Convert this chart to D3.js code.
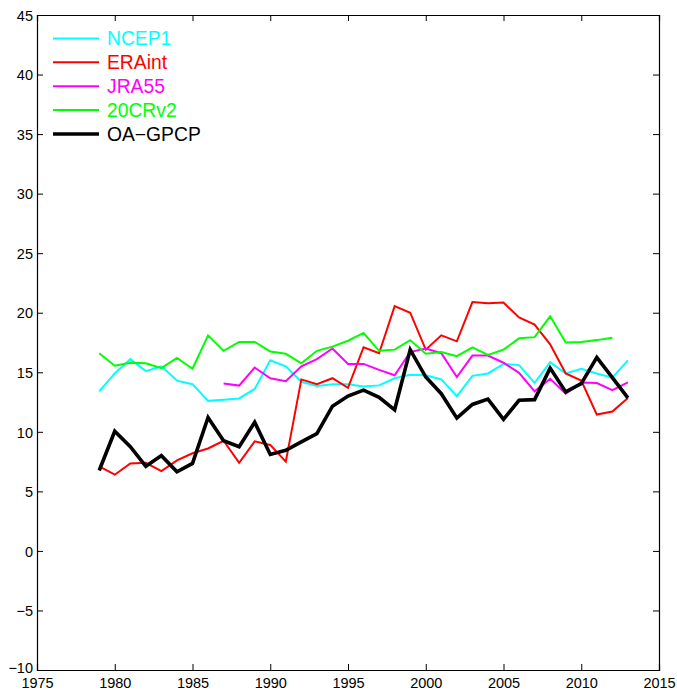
<!DOCTYPE html>
<html>
<head>
<meta charset="utf-8">
<script src="https://cdn.jsdelivr.net/npm/d3@7"></script>
<style>
  html, body { margin: 0; padding: 0; background: #fff; }
  svg text { font-family: "Liberation Sans", Arial, Helvetica, sans-serif; }
</style>
</head>
<body>
<div id="chart"></div>
<script>
const years = d3.range(1979, 2014);

const ncep1 = [13.4, 14.9, 16.1, 15.1, 15.5, 14.3, 14.0, 12.6, 12.7, 12.8,
  13.6, 16.0, 15.5, 14.2, 13.85, 14.0, 14.0, 13.8, 13.9, 14.5,
  14.8, 14.75, 14.4, 13.0, 14.7, 14.9, 15.7, 15.6, 14.1, 15.85,
  14.9, 15.3, 14.9, 14.55, 16.0];

const eraint = [7.1, 6.4, 7.35, 7.4, 6.7, 7.6, 8.2, 8.6, 9.25, 7.4,
  9.2, 8.9, 7.5, 14.4, 14.0, 14.5, 13.7, 17.1, 16.6, 20.55,
  20.0, 16.9, 18.1, 17.6, 20.9, 20.8, 20.85, 19.6, 19.0, 17.35,
  14.9, 14.3, 11.45, 11.7, 12.85];

const jra55 = [null, null, null, null, null, null, null, null, 14.05, 13.88,
  15.4, 14.5, 14.25, 15.5, 16.1, 17.0, 15.7, 15.7, 15.2, 14.75,
  16.7, 17.0, 16.6, 14.6, 16.4, 16.4, 15.8, 14.95, 13.4, 14.45,
  13.2, 14.15, 14.1, 13.5, 14.15];

const c20rv2 = [16.6, 15.55, 15.8, 15.75, 15.35, 16.2, 15.3, 18.1, 16.8, 17.55,
  17.55, 16.75, 16.55, 15.75, 16.8, 17.15, 17.65, 18.3, 16.8, 16.9,
  17.7, 16.55, 16.7, 16.35, 17.1, 16.45, 16.9, 17.85, 17.95, 19.7,
  17.5, 17.55, 17.7, 17.9, null];

const oagpcp = [6.75, 10.05, 8.75, 7.1, 8.0, 6.65, 7.35, 11.2, 9.25, 8.75,
  10.8, 8.1, 8.45, 9.15, 9.85, 12.15, 13.0, 13.5, 12.9, 11.85,
  16.9, 14.6, 13.2, 11.15, 12.3, 12.75, 11.05, 12.65, 12.7, 15.35,
  13.35, 14.05, 16.25, 14.55, 12.85];

const seriesNames = ["NCEP1", "ERAint", "JRA55", "20CRv2", "OA\u2212GPCP"];
const seriesValues = [ncep1, eraint, jra55, c20rv2, oagpcp];
const seriesColors = ["#00FFFF", "#FF0000", "#FF00FF", "#00FF00", "#000000"];
const seriesWidths = [2, 2, 2, 2, 3.6];

const xTicks = d3.range(1975, 2016, 5);
const yTicks = d3.range(-10, 46, 5);

const W = 677, H = 690;
const mLeft = 37, mRight = 659, mTop = 15, mBottom = 670;

const svg = d3.select("#chart").append("svg")
  .attr("width", W).attr("height", H);

const x = d3.scaleLinear().domain([1975, 2015]).range([mLeft, mRight]);
const y = d3.scaleLinear().domain([-10, 45]).range([mBottom, mTop]);

const tickLen = 6;
const fmt = d => d < 0 ? "\u2212" + Math.abs(d) : String(d);

const gBottom = svg.append("g").attr("transform", `translate(0,${mBottom})`)
  .call(d3.axisBottom(x).tickValues(xTicks).tickSize(-tickLen).tickPadding(8).tickFormat(d3.format("d")));
const gTop = svg.append("g").attr("transform", `translate(0,${mTop})`)
  .call(d3.axisTop(x).tickValues(xTicks).tickSize(-tickLen).tickFormat(""));
const gLeft = svg.append("g").attr("transform", `translate(${mLeft},0)`)
  .call(d3.axisLeft(y).tickValues(yTicks).tickSize(-tickLen).tickPadding(4).tickFormat(fmt));
const gRight = svg.append("g").attr("transform", `translate(${mRight},0)`)
  .call(d3.axisRight(y).tickValues(yTicks).tickSize(-tickLen).tickFormat(""));

[gBottom, gTop, gLeft, gRight].forEach(g => {
  g.select(".domain").attr("stroke", "#000").attr("stroke-width", 1.2);
  g.selectAll(".tick line").attr("stroke", "#000").attr("stroke-width", 1);
  g.selectAll(".tick text").attr("fill", "#000").attr("font-size", 14.5)
    .attr("font-family", "'Liberation Sans', Arial, sans-serif");
});
gLeft.selectAll(".tick text").attr("dy", "0.36em");
// nudge the lowest y label up slightly so it clears the first x label
gLeft.selectAll(".tick").filter(d => d === -10).select("text").attr("y", -3);

const line = d3.line()
  .defined(d => d.v !== null)
  .x(d => x(d.year))
  .y(d => y(d.v));

seriesValues.forEach((vals, i) => {
  const data = years.map((yr, k) => ({ year: yr, v: vals[k] }));
  svg.append("path")
    .datum(data)
    .attr("fill", "none")
    .attr("stroke", seriesColors[i])
    .attr("stroke-width", seriesWidths[i])
    .attr("stroke-linejoin", "miter")
    .attr("d", line);
});

const legend = svg.append("g");
const legY = [38.5, 62.3, 86.2, 110, 134];
seriesNames.forEach((name, i) => {
  legend.append("line")
    .attr("x1", 53).attr("x2", 99)
    .attr("y1", legY[i]).attr("y2", legY[i])
    .attr("stroke", seriesColors[i])
    .attr("stroke-width", seriesWidths[i]);
  legend.append("text")
    .attr("x", 107).attr("y", legY[i])
    .attr("dy", "0.36em")
    .attr("font-size", 19.3)
    .attr("fill", seriesColors[i])
    .text(name);
});
</script>
</body>
</html>
